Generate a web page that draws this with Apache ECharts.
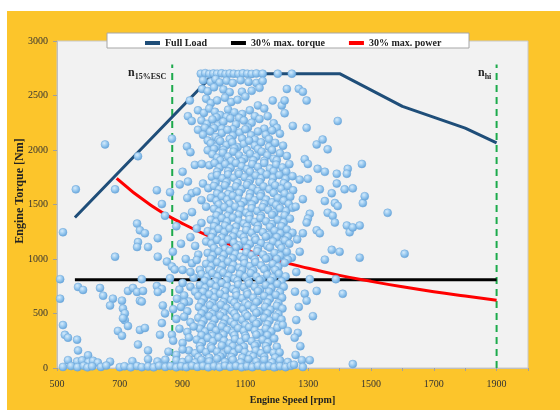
<!DOCTYPE html>
<html>
<head>
<meta charset="utf-8">
<script src="https://cdn.jsdelivr.net/npm/echarts/dist/echarts.min.js"></script>
<style>
  html, body { margin: 0; padding: 0; background: #fff; }
  #chart { position: absolute; left: 7px; top: 11px; width: 553px; height: 399px; }
</style>
</head>
<body>
<div id="chart"></div>
<script>
// values
var speedLabels = [500, 700, 900, 1100, 1300, 1500, 1700, 1900];
var torqueTicks = [0, 500, 1000, 1500, 2000, 2500, 3000];

var fullLoadRpm = [557, 1000, 1400, 1600, 1800, 1900];
var fullLoadTorque = [1380, 2700, 2700, 2400, 2200, 2065];

var maxTorqueRpm = [557, 1900];
var maxTorque30 = [810, 810];

var maxPowerRpm = [690, 800, 900, 1000, 1100, 1200, 1300, 1400, 1500, 1600, 1700, 1800, 1900];
var maxPower30 = [1740, 1490, 1325, 1190, 1085, 990, 915, 850, 795, 745, 700, 660, 622];

var escRpm = 867;
var hiRpm = 1900;
var markerTop = 2785;

// measured operating points [rpm, Nm]
var measured = [
  [958,2700],[972,2705],[985,2698],[998,2702],[1010,2700],[1024,2703],[1037,2698],[1050,2702],[1063,2700],[1078,2697],[1092,2703],[1106,2700],[1120,2698],[1135,2702],[1155,2700],[1203,2700],[1248,2700],
  [965,2640],[990,2625],[1005,2650],[1018,2620],[1040,2635],[1060,2615],[1085,2640],[1110,2625],[1135,2615],[1155,2633],[1232,2560],[1270,2561],[1283,2534],
  [962,2560],[980,2540],[1000,2575],[1030,2555],[1050,2530],[1089,2534],[1120,2543],[1145,2570],
  [975,2470],[990,2430],[1010,2455],[1035,2480],[1055,2440],[1075,2460],[1100,2490],[1187,2454],[1216,2409],[1225,2454],[1295,2454],[923,2454],
  [949,2364],[968,2340],[985,2380],[1003,2350],[1020,2320],[1045,2370],[1065,2345],[1090,2330],[1114,2364],[1140,2409],[1160,2380],[917,2310],[929,2266],
  [1008,2300],[1040,2305],[1080,2295],[1130,2310],
  [949,2185],[960,2270],[978,2240],[995,2280],[1012,2225],[1030,2260],[1052,2290],[1070,2235],[1095,2270],[1120,2250],[1145,2285],[1171,2310],[1190,2245],[1225,2337],[1251,2221],[1295,2203],[1200,2203],[971,2203],[1394,2266],
  [1000,2200],[1025,2195],[1060,2190],[1108,2205],[1160,2195],
  [965,2140],[988,2170],[1005,2120],[1025,2155],[1043,2185],[1060,2130],[1082,2160],[1100,2190],[1118,2135],[1140,2170],[1165,2140],[1185,2180],[1210,2150],[980,2087],
  [1015,2095],[1050,2100],[1090,2105],[1130,2095],[1175,2100],
  [990,2060],[1008,2030],[1020,2080],[1040,2045],[1058,2070],[1075,2025],[1095,2055],[1112,2085],[1130,2040],[1150,2070],[1175,2030],[1195,2065],[1220,2040],[1327,2051],[1346,2096],[1362,2006],[980,1997],[914,2033],[866,2104],[653,2051],[758,1943],
  [1000,2010],[1030,2000],[1065,2015],[1105,2000],[1140,2010],[1185,2000],
  [995,1960],[1010,1930],[1028,1975],[1045,1940],[1062,1985],[1080,1950],[1097,1920],[1115,1965],[1135,1940],[1152,1985],[1170,1950],[1190,1920],[1210,1970],[1232,1945],[1289,1916],[925,1980],
  [1020,1905],[1055,1900],[1088,1895],[1125,1905],[1160,1900],[1200,1905],
  [985,1860],[1002,1880],[1018,1840],[1036,1870],[1053,1835],[1070,1880],[1088,1850],[1105,1825],[1122,1870],[1140,1845],[1160,1880],[1178,1830],[1198,1865],[1218,1840],[1240,1870],[939,1863],[961,1872],[1299,1872],[1330,1827],[1353,1800],[1391,1782],[1426,1827],[1423,1782],[1471,1872],[900,1800],
  [1010,1800],[1045,1805],[1078,1795],[1115,1800],[1150,1795],[1190,1805],[1230,1800],
  [993,1755],[1010,1770],[1027,1740],[1045,1775],[1063,1745],[1080,1780],[1098,1750],[1115,1725],[1133,1765],[1150,1740],[1168,1775],[1188,1745],[1208,1770],[1228,1735],[1250,1760],[1273,1728],[1299,1737],[965,1692],[917,1710],[891,1684],
  [1005,1700],[1040,1705],[1075,1700],[1110,1695],[1145,1705],[1185,1700],[1222,1695],
  [982,1650],[1000,1670],[1017,1640],[1035,1675],[1052,1630],[1070,1665],[1088,1640],[1105,1680],[1123,1650],[1140,1625],[1158,1665],[1176,1640],[1195,1675],[1214,1645],[1235,1670],[1252,1630],[1337,1639],[1375,1603],[1391,1692],[1416,1639],[1442,1648],[929,1603],[860,1612],[818,1630],[685,1639],[560,1639],[945,1620],
  [1010,1600],[1045,1595],[1080,1605],[1115,1600],[1150,1595],[1190,1605],[1225,1600],
  [990,1560],[1008,1535],[1025,1575],[1042,1545],[1060,1580],[1078,1550],[1095,1525],[1113,1565],[1130,1540],[1148,1575],[1166,1545],[1185,1520],[1203,1560],[1222,1535],[1243,1570],[1283,1549],[1353,1531],[1385,1513],[1474,1513],[1480,1576],[960,1540],[915,1560],
  [1015,1500],[1050,1505],[1085,1495],[1120,1500],[1160,1505],[1198,1495],[1238,1505],
  [1000,1460],[1016,1435],[1033,1475],[1050,1445],[1068,1480],[1085,1450],[1103,1425],[1120,1465],[1138,1440],[1155,1475],[1173,1450],[1192,1425],[1210,1465],[1230,1440],[1250,1470],[1305,1415],[1362,1424],[1394,1486],[1378,1397],[834,1504],[975,1480],[930,1430],[1553,1424],[1260,1480],
  [1008,1400],[1043,1395],[1078,1405],[1113,1400],[1150,1395],[1185,1405],[1225,1400],
  [990,1360],[1007,1340],[1025,1375],[1042,1345],[1060,1380],[1078,1350],[1095,1325],[1113,1365],[1130,1340],[1148,1375],[1166,1345],[1185,1320],[1203,1360],[1222,1335],[1242,1370],[1299,1370],[1295,1334],[1385,1334],[844,1397],[960,1330],[905,1390],[880,1300],
  [1000,1300],[1035,1305],[1070,1295],[1105,1300],[1140,1305],[1178,1295],[1215,1300],
  [980,1255],[998,1240],[1015,1275],[1033,1245],[1050,1280],[1068,1250],[1085,1225],[1103,1265],[1120,1240],[1138,1275],[1156,1245],[1175,1220],[1193,1260],[1212,1235],[1232,1270],[1250,1240],[1283,1236],[1327,1263],[1337,1236],[1423,1307],[1432,1245],[1442,1290],[1464,1307],[755,1325],[764,1263],[780,1236],[945,1280],[519,1245],[925,1200],
  [992,1200],[1025,1195],[1060,1205],[1095,1200],[1130,1195],[1165,1205],[1200,1200],[1235,1205],
  [975,1160],[992,1140],[1010,1175],[1028,1145],[1045,1180],[1063,1150],[1080,1125],[1098,1165],[1115,1140],[1133,1175],[1150,1145],[1170,1120],[1188,1160],[1207,1135],[1226,1170],[1240,1140],[758,1155],[821,1191],[755,1110],[790,1110],[940,1120],[895,1140],[1265,1180],
  [1000,1100],[1035,1095],[1070,1105],[1105,1100],[1140,1095],[1178,1105],[1215,1100],
  [980,1055],[997,1035],[1015,1070],[1032,1040],[1050,1075],[1068,1045],[1085,1020],[1103,1060],[1120,1035],[1138,1070],[1156,1040],[1175,1015],[1193,1055],[1212,1030],[1232,1065],[1248,1012],[1273,1066],[1353,994],[1375,1084],[1400,1066],[1464,1012],[685,1021],[821,1021],[869,1066],[950,1040],[910,1000],[1607,1048],
  [990,1000],[1025,995],[1060,1005],[1095,1000],[1130,995],[1165,1005],[1200,1000],[1235,995],
  [975,955],[992,935],[1010,970],[1027,940],[1045,975],[1062,945],[1080,920],[1097,960],[1115,935],[1132,970],[1150,940],[1168,915],[1187,955],[1205,930],[1225,965],[850,976],[866,931],[875,904],[930,960],[955,900],[945,990],[900,900],
  [985,900],[1020,895],[1055,905],[1090,900],[1125,895],[1160,905],[1195,900],
  [960,860],[978,835],[995,870],[1012,840],[1030,875],[1047,845],[1065,820],[1082,860],[1100,835],[1117,870],[1135,840],[1152,815],[1170,855],[1188,830],[1207,865],[1228,840],[1305,815],[1388,815],[510,815],[770,815],[860,824],[935,830],[925,880],[1262,880],
  [970,800],[1005,795],[1040,805],[1075,800],[1110,795],[1145,805],[1180,800],[1215,795],
  [955,760],[972,735],[990,775],[1007,745],[1025,780],[1042,750],[1060,725],[1077,765],[1095,740],[1112,775],[1130,745],[1147,720],[1165,760],[1183,735],[1202,770],[1222,745],[567,743],[583,716],[637,734],[726,707],[742,734],[755,698],[774,707],[818,752],[834,725],[821,698],[1327,707],[1289,681],[1410,681],[925,745],[890,720],[900,780],[940,700],[1258,700],
  [965,700],[1000,695],[1035,705],[1070,700],[1105,695],[1140,705],[1175,700],[1210,695],
  [950,660],[968,635],[985,675],[1002,645],[1020,680],[1037,650],[1055,625],[1072,665],[1090,640],[1107,675],[1125,645],[1142,620],[1160,660],[1178,635],[1197,670],[1217,645],[1295,618],[510,636],[647,663],[678,636],[707,618],[764,618],[770,609],[882,636],[905,665],[920,610],[905,600],
  [960,600],[995,595],[1030,605],[1065,600],[1100,595],[1135,605],[1170,600],[1205,595],
  [952,560],[970,535],[987,575],[1005,545],[1022,580],[1040,550],[1057,525],[1075,565],[1092,540],[1110,575],[1127,545],[1145,520],[1163,560],[1180,535],[1200,570],[1218,545],[669,573],[710,546],[716,501],[837,573],[844,501],[1315,475],[895,560],[915,520],[870,540],[1270,560],
  [960,500],[995,495],[1030,505],[1065,500],[1100,495],[1135,505],[1170,500],[1205,495],
  [950,460],[967,435],[985,475],[1002,445],[1020,480],[1037,450],[1055,425],[1072,465],[1090,440],[1107,475],[1125,445],[1142,420],[1160,460],[1177,435],[1197,470],[1215,445],[716,439],[710,457],[834,412],[880,450],[905,470],[925,420],[519,394],[1262,440],
  [960,400],[995,395],[1030,405],[1065,400],[1100,395],[1135,405],[1170,400],[1205,395],
  [955,360],[972,335],[990,375],[1007,345],[1025,380],[1042,350],[1060,325],[1077,365],[1095,340],[1112,375],[1130,345],[1147,320],[1165,360],[1183,335],[1202,370],[1219,394],[1235,340],[1267,322],[694,340],[726,385],[764,349],[780,367],[866,304],[828,304],[525,304],[535,278],[564,260],[890,360],[915,330],[935,380],[707,296],
  [960,300],[995,295],[1030,305],[1065,300],[1100,295],[1135,305],[1170,300],
  [945,260],[962,235],[980,275],[997,245],[1015,280],[1032,250],[1050,225],[1067,265],[1085,240],[1102,275],[1120,245],[1137,220],[1155,260],[1172,235],[1192,270],[1257,278],[758,215],[870,250],[900,230],[920,280],[1275,200],
  [955,200],[990,195],[1025,205],[1060,200],[1095,195],[1130,205],[1165,200],[1200,195],
  [920,160],[940,135],[958,175],[975,145],[993,180],[1010,150],[1028,125],[1045,165],[1063,140],[1080,175],[1098,145],[1115,120],[1133,160],[1150,135],[1170,170],[1190,140],[1209,143],[790,161],[567,161],[599,116],[855,150],[880,120],[900,170],[1260,120],
  [950,100],[985,95],[1020,105],[1055,100],[1090,95],[1125,105],[1160,100],[1195,95],
  [880,70],[900,55],[920,80],[940,50],[960,75],[985,60],[1010,85],[1035,55],[1060,75],[1085,50],[1110,80],[1135,60],[1160,75],[1185,50],[1210,70],[1235,55],[1280,72],[1305,72],[535,72],[564,60],[580,70],[600,54],[615,66],[630,50],[669,58],[740,62],[790,80],[820,60],[845,75],
  [519,10],[545,18],[565,8],[585,20],[597,6],[612,15],[640,10],[657,22],[700,8],[715,16],[735,6],[755,18],[770,8],[790,14],[808,6],[825,20],[845,10],[862,18],[880,6],[895,16],[912,8],[930,20],[947,10],[965,18],[982,6],[1000,16],[1018,8],[1035,20],[1052,10],[1070,18],[1088,6],[1105,16],[1122,8],[1140,20],[1158,10],[1175,18],[1192,6],[1210,16],[1228,8],[1245,20],[1255,30],[1283,9],[1442,36]
];

var chart = echarts.init(document.getElementById('chart'));
var serif = '"Liberation Serif", "Times New Roman", serif';

var sphere = {
  type: 'radial', x: 0.4, y: 0.35, r: 0.65,
  colorStops: [
    { offset: 0, color: '#D6EBFB' },
    { offset: 0.5, color: '#9ACAF0' },
    { offset: 1, color: '#66A5DB' }
  ]
};

chart.setOption({
  backgroundColor: '#FCC52B',
  animation: false,
  textStyle: { fontFamily: serif },
  grid: {
    left: 50, top: 30, right: 32, bottom: 34,
    show: true, backgroundColor: '#F2F2F2', borderColor: '#C8C8C8', borderWidth: 1
  },
  legend: {
    data: ['Full Load', '30% max. torque', '30% max. power'],
    left: 133, top: 22, z: 10,
    itemGap: 24, itemWidth: 15, itemHeight: 4, icon: 'rect',
    textStyle: { fontFamily: serif, fontWeight: 'bold', fontSize: 10, color: '#222' }
  },
  graphic: [
    { type: 'rect', z: 5, shape: { x: 100, y: 22, width: 362, height: 15 },
      style: { fill: '#fff', stroke: '#A6A6A6', lineWidth: 1 } },
    { type: 'text', x: 13, y: 180, rotation: Math.PI / 2,
      style: { text: 'Engine Torque [Nm]', font: 'bold 12px ' + serif, fill: '#222', align: 'center', verticalAlign: 'middle' } },
    { type: 'text', x: 121, y: 62,
      style: { text: '{n|n}{s|15%ESC}', fill: '#222', verticalAlign: 'middle',
        rich: { n: { font: 'bold 12px ' + serif, fill: '#222' }, s: { font: 'bold 8px ' + serif, fill: '#222', padding: [7, 0, 0, 0] } } } },
    { type: 'text', x: 471, y: 62,
      style: { text: '{n|n}{s|hi}', fill: '#222', verticalAlign: 'middle',
        rich: { n: { font: 'bold 12px ' + serif, fill: '#222' }, s: { font: 'bold 8px ' + serif, fill: '#222', padding: [7, 0, 0, 0] } } } }
  ],
  xAxis: {
    type: 'value', min: 500, max: 2000, interval: 100,
    name: 'Engine Speed [rpm]', nameLocation: 'middle', nameGap: 27,
    nameTextStyle: { fontFamily: serif, fontWeight: 'bold', fontSize: 10, color: '#222' },
    axisLine: { show: true, lineStyle: { color: '#BFBFBF' } },
    axisTick: { show: true, length: 3, lineStyle: { color: '#A0A0A0' } },
    splitLine: { show: false },
    axisLabel: {
      fontFamily: serif, fontSize: 10, color: '#333', margin: 11,
      formatter: function (v) { return speedLabels.indexOf(v) >= 0 ? String(v) : ''; }
    }
  },
  yAxis: {
    type: 'value', min: torqueTicks[0], max: torqueTicks[torqueTicks.length - 1], interval: 500,
    axisLine: { show: true, lineStyle: { color: '#BFBFBF' } },
    axisTick: { show: true, length: 4, lineStyle: { color: '#A0A0A0' } },
    splitLine: { show: false },
    axisLabel: { fontFamily: serif, fontSize: 10, color: '#333', margin: 9,
      formatter: function (v) { return String(v); } }
  },
  series: [
    {
      name: 'n15', type: 'line', z: 2, symbol: 'none', silent: true,
      data: [[escRpm, 0], [escRpm, markerTop]],
      lineStyle: { color: '#1DAA4C', width: 2, type: [7, 5] }
    },
    {
      name: 'nhi', type: 'line', z: 2, symbol: 'none', silent: true,
      data: [[hiRpm, 0], [hiRpm, markerTop]],
      lineStyle: { color: '#1DAA4C', width: 2, type: [7, 5] }
    },
    {
      name: 'Full Load', type: 'line', z: 2, symbol: 'none',
      data: fullLoadRpm.map(function (r, i) { return [r, fullLoadTorque[i]]; }),
      lineStyle: { color: '#1F4E79', width: 3 }, itemStyle: { color: '#1F4E79' }
    },
    {
      name: '30% max. torque', type: 'line', z: 2, symbol: 'none',
      data: maxTorqueRpm.map(function (r, i) { return [r, maxTorque30[i]]; }),
      lineStyle: { color: '#000', width: 3 }, itemStyle: { color: '#000' }
    },
    {
      name: '30% max. power', type: 'line', z: 2, symbol: 'none', smooth: true,
      data: maxPowerRpm.map(function (r, i) { return [r, maxPower30[i]]; }),
      lineStyle: { color: '#FF0000', width: 3 }, itemStyle: { color: '#FF0000' }
    },
    {
      name: 'measured', type: 'scatter', z: 3, symbolSize: 8,
      data: measured,
      itemStyle: { color: sphere, borderColor: '#6EA6D8', borderWidth: 0.5, opacity: 1 }
    }
  ]
});
</script>
</body>
</html>
